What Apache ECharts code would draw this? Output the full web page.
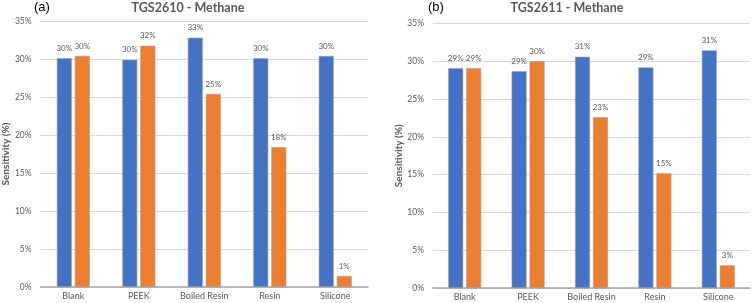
<!DOCTYPE html>
<html>
<head>
<meta charset="utf-8">
<script src="https://cdn.jsdelivr.net/npm/echarts@6/dist/echarts.min.js"></script>
<style>html,body{margin:0;padding:0;background:#fff;}#c{width:754px;height:303px;}</style>
</head>
<body>
<div id="c"></div>
<script>
const categories = ['Blank', 'PEEK', 'Boiled Resin', 'Resin', 'Silicone'];
const tgs2610Blue = [30.1, 29.9, 32.8, 30.1, 30.4];
const tgs2610Orange = [30.4, 31.75, 25.4, 18.4, 1.45];
const tgs2611Blue = [29.1, 28.7, 30.6, 29.2, 31.45];
const tgs2611Orange = [29.1, 30.0, 22.6, 15.2, 3.0];
const yTicks = [0, 5, 10, 15, 20, 25, 30, 35];

const chart = echarts.init(document.getElementById('c'), null, {renderer: 'canvas'});
const FONT = 'Lato, "Open Sans", sans-serif';
const BLUE = '#4472c4', ORANGE = '#ed7d31';

function xAxis(gi) {
  return {
    type: 'category', gridIndex: gi, data: categories,
    axisLine: {lineStyle: {color: '#a6a6a6', width: 1.5}},
    axisTick: {show: false},
    axisLabel: {color: '#595959', fontSize: 9, fontFamily: FONT, margin: 5}
  };
}
function yAxis(gi) {
  return {
    type: 'value', gridIndex: gi, min: yTicks[0], max: yTicks[yTicks.length - 1], interval: 5,
    name: 'Sensitivity (%)', nameLocation: 'middle', nameGap: 25,
    nameTextStyle: {color: '#595959', fontSize: 10, fontFamily: FONT, fontWeight: 'bold'},
    axisLine: {show: false}, axisTick: {show: false},
    axisLabel: {color: '#595959', fontSize: 8.5, fontFamily: FONT, margin: 9, formatter: v => v + '%'},
    splitLine: {lineStyle: {color: '#d9d9d9', width: 1}}
  };
}
function bar(gi, data, color) {
  return {
    type: 'bar', xAxisIndex: gi, yAxisIndex: gi, data: data,
    barWidth: 15, barGap: '20%',
    itemStyle: {color: color, borderColor: '#a5a5a5', borderWidth: 0.6},
    label: {show: true, position: 'top', distance: 6, color: '#595959', fontSize: 8, fontFamily: FONT,
      formatter: p => Math.round(p.value) + '%'}
  };
}

chart.setOption({
  animation: false,
  backgroundColor: '#fff',
  title: [
    {text: 'TGS2610 - Methane', left: 188, textAlign: 'center', top: 1, padding: 0,
      textStyle: {color: '#595959', fontSize: 12.5, fontWeight: 'bold', fontFamily: FONT}},
    {text: '(a)', left: 34, top: 1, padding: 0, textStyle: {color: '#000', fontSize: 13, fontWeight: 'normal', fontFamily: 'Liberation Sans, sans-serif'}},
    {text: 'TGS2611 - Methane', left: 567, textAlign: 'center', top: 1, padding: 0,
      textStyle: {color: '#595959', fontSize: 12.5, fontWeight: 'bold', fontFamily: FONT}},
    {text: '(b)', left: 428, top: 1, padding: 0, textStyle: {color: '#000', fontSize: 13, fontWeight: 'normal', fontFamily: 'Liberation Sans, sans-serif'}}
  ],
  grid: [
    {left: 34, right: 386, top: 21, bottom: 16, containLabel: false},
    {left: 433, right: 4, top: 23.5, bottom: 15, containLabel: false}
  ],
  xAxis: [xAxis(0), xAxis(1)],
  yAxis: [yAxis(0), yAxis(1)],
  series: [
    bar(0, tgs2610Blue, BLUE), bar(0, tgs2610Orange, ORANGE),
    bar(1, tgs2611Blue, BLUE), bar(1, tgs2611Orange, ORANGE)
  ]
});
</script>
</body>
</html>
